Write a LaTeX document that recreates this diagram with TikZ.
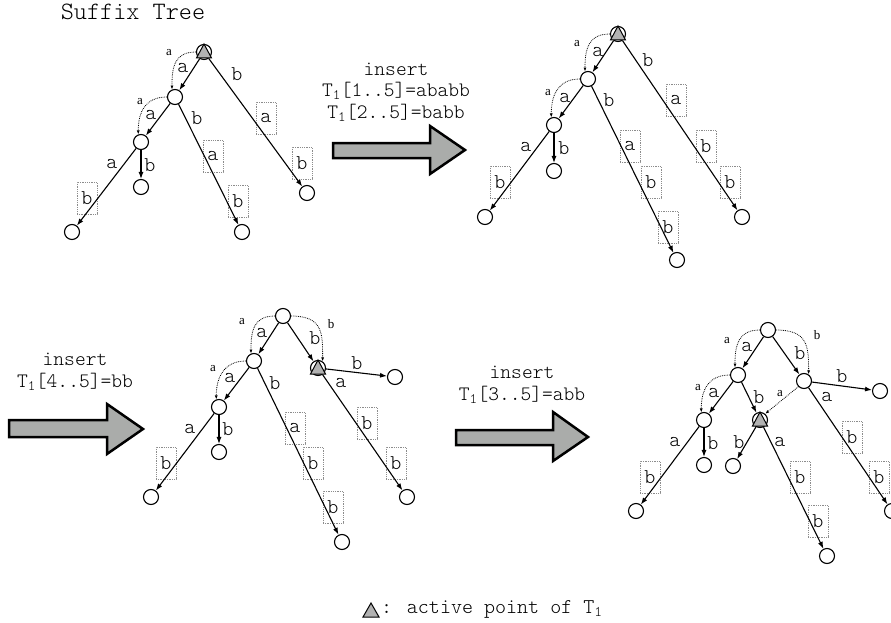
\documentclass[tikz,border=0pt]{standalone}
\usepackage{fontspec}
\newfontfamily\cour{Latin Modern Mono Light}
\newfontfamily\serifsmall{Liberation Serif}
\usetikzlibrary{arrows.meta,calc}
\definecolor{arrowgray}{RGB}{170,172,170}
\definecolor{trigray}{RGB}{178,178,178}
\definecolor{boxgray}{RGB}{140,140,140}
\newcommand\actpt[1]{\draw[tri] ($(#1)+(0,-8)$) -- ($(#1)+(-7.5,6)$) -- ($(#1)+(7.5,6)$) -- cycle;}
\begin{document}
\begin{tikzpicture}[x=1pt,y=-1pt,
 vtx/.style={circle,draw,line width=1.1pt,minimum size=15pt,inner sep=0pt,fill=white},
 edge/.style={line width=1.1pt,-{Latex[length=7pt,width=5pt]}},
 link/.style={densely dotted,line width=0.8pt,-{Latex[length=4pt,width=3pt]}},
 lab/.style={font=\cour\fontsize{21}{23}\selectfont,inner sep=0pt},
 slab/.style={font=\serifsmall\fontsize{13}{13}\selectfont,inner sep=0pt},
 seg/.style={draw=boxgray,densely dotted,line width=0.8pt,minimum width=20pt,minimum height=32pt,inner sep=0pt,font=\cour\fontsize{21}{23}\selectfont},
 ins/.style={font=\cour\fontsize{20.5}{21.5}\selectfont,align=center,inner sep=0pt},
 bigarrow/.style={fill=arrowgray,draw=black,line width=2.5pt,line join=miter},
 tri/.style={fill=trigray,draw=black,line width=1pt}]
\useasboundingbox (0,0) rectangle (891,623);

\node[font=\cour\fontsize{25}{27}\selectfont,inner sep=0pt] (title) at (133,12) {Suffix Tree};

% ---------- big arrows ----------
\draw[bigarrow] (333,143) -- (430,143) -- (430,126) -- (465,150) -- (430,174) -- (430,158) -- (333,158) -- cycle;
\draw[bigarrow] (9,420) -- (107,420) -- (107,404) -- (143,429) -- (107,454) -- (107,437) -- (9,437) -- cycle;
\draw[bigarrow] (456,430) -- (553,430) -- (553,412) -- (588,437) -- (553,461) -- (553,445) -- (456,445) -- cycle;

\node[ins] (ins1) at (396,92) {insert\\T\textsubscript{1}[1..5]=ababb\\T\textsubscript{1}[2..5]=babb};
\node[ins] (ins2) at (75,372) {insert\\T\textsubscript{1}[4..5]=bb};
\node[ins] (ins3) at (522,385) {insert\\T\textsubscript{1}[3..5]=abb};

% ---------- tree 1 ----------
\node[vtx] (R1) at (204,52) {};
\node[vtx] (A1) at (175,97) {};
\node[vtx] (B1) at (141,142) {};
\node[vtx] (Bb1) at (141,187) {};
\node[vtx] (Ba1) at (72,232) {};
\node[vtx] (Ab1) at (242,232) {};
\node[vtx] (Rb1) at (307,193) {};
\actpt{R1}
\node[seg] (s1a) at (266,118) {a};
\node[seg] (s1b) at (302,163) {b};
\node[seg] (s1c) at (213,156) {a};
\node[seg] (s1d) at (238,201) {b};
\node[seg] (s1e) at (87,198) {b};
\draw[edge] (R1) -- (A1);
\draw[edge] (R1) -- (Rb1);
\draw[edge] (A1) -- (B1);
\draw[edge] (A1) -- (Ab1);
\draw[edge] (B1) -- (Ba1);
\draw[edge] (B1) -- (Bb1);
\node[lab] (l1a) at (183,68) {a};
\node[lab] (l1b) at (237,74) {b};
\node[lab] (l1c) at (151,115) {a};
\node[lab] (l1d) at (197,118) {b};
\node[lab] (l1e) at (112,164) {a};
\node[lab] (l1f) at (150,165) {b};
\draw[link] (R1.west) .. controls +(-22,0) and +(0,-22) .. (A1.112);
\draw[link] (A1.west) .. controls +(-22,0) and +(0,-22) .. (B1.110);
\node[slab] (k1a) at (169,53) {a};
\node[slab] (k1b) at (140,102) {a};

% ---------- tree 2 ----------
\node[vtx] (R2) at (618,34) {};
\node[vtx] (A2) at (588,79) {};
\node[vtx] (B2) at (554,125) {};
\node[vtx] (Bb2) at (554,171) {};
\node[vtx] (Ba2) at (485,217) {};
\node[vtx] (Ab2) at (677,260) {};
\node[vtx] (Rb2) at (742,217) {};
\actpt{R2}
\node[seg] (s2a) at (676,100) {a};
\node[seg] (s2b) at (706,146) {b};
\node[seg] (s2c) at (730,182) {b};
\node[seg] (s2d) at (630,146) {a};
\node[seg] (s2e) at (651,182) {b};
\node[seg] (s2f) at (668,227) {b};
\node[seg] (s2g) at (500,182) {b};
\draw[edge] (R2) -- (A2);
\draw[edge] (R2) -- (Rb2);
\draw[edge] (A2) -- (B2);
\draw[edge] (A2) -- (Ab2);
\draw[edge] (B2) -- (Ba2);
\draw[edge] (B2) -- (Bb2);
\node[lab] (l2a) at (598,52) {a};
\node[lab] (l2b) at (648,60) {b};
\node[lab] (l2c) at (565,98) {a};
\node[lab] (l2d) at (609,100) {b};
\node[lab] (l2e) at (526,147) {a};
\node[lab] (l2f) at (564,148) {b};
\draw[link] (R2.west) .. controls +(-22,0) and +(0,-22) .. (A2.112);
\draw[link] (A2.west) .. controls +(-22,0) and +(0,-22) .. (B2.110);
\node[slab] (k2a) at (577,44) {a};
\node[slab] (k2b) at (548,93) {a};

% ---------- tree 3 ----------
\node[vtx] (R3) at (283,316) {};
\node[vtx] (A3) at (254,361) {};
\node[vtx] (B3) at (219,407) {};
\node[vtx] (Bb3) at (219,452) {};
\node[vtx] (Ba3) at (151,497) {};
\node[vtx] (Ab3) at (342,542) {};
\node[vtx] (C3) at (318,368) {};
\node[vtx] (Cb3) at (395,377) {};
\node[vtx] (Ca3) at (407,497) {};
\actpt{C3}
\node[seg] (s3a) at (367,423) {b};
\node[seg] (s3b) at (396,463) {b};
\node[seg] (s3c) at (295,428) {a};
\node[seg] (s3d) at (313,463) {b};
\node[seg] (s3e) at (333,507) {b};
\node[seg] (s3f) at (166,463) {b};
\draw[edge] (R3) -- (A3);
\draw[edge] (R3) -- (C3);
\draw[edge] (C3) -- (Cb3);
\draw[edge] (C3) -- (Ca3);
\draw[edge] (A3) -- (B3);
\draw[edge] (A3) -- (Ab3);
\draw[edge] (B3) -- (Ba3);
\draw[edge] (B3) -- (Bb3);
\node[lab] (l3a) at (262,333) {a};
\node[lab] (l3b) at (315,338) {b};
\node[lab] (l3c) at (357,363) {b};
\node[lab] (l3d) at (341,383) {a};
\node[lab] (l3e) at (230,378) {a};
\node[lab] (l3f) at (275,383) {b};
\node[lab] (l3g) at (190,429) {a};
\node[lab] (l3h) at (228,429) {b};
\draw[link] (R3.west) .. controls +(-22,0) and +(0,-22) .. (A3.112);
\draw[link] (R3.east) .. controls +(32,0) and +(0,-28) .. (C3.55);
\draw[link] (A3.west) .. controls +(-22,0) and +(0,-22) .. (B3.110);
\node[slab] (k3a) at (242,322) {a};
\node[slab] (k3b) at (331,324) {b};
\node[slab] (k3c) at (213,369) {a};

% ---------- tree 4 ----------
\node[vtx] (R4) at (768,330) {};
\node[vtx] (A4) at (738,375) {};
\node[vtx] (B4) at (704,420) {};
\node[vtx] (Bb4) at (704,465) {};
\node[vtx] (Ba4) at (636,511) {};
\node[vtx] (C4) at (804,381) {};
\node[vtx] (Cb4) at (880,391) {};
\node[vtx] (Ca4) at (892,511) {};
\node[vtx] (D4) at (760,420) {};
\node[vtx] (Db4) at (733,466) {};
\node[vtx] (Da4) at (827,556) {};
\actpt{D4}
\node[seg] (s4a) at (852,437) {b};
\node[seg] (s4b) at (879,477) {b};
\node[seg] (s4c) at (800,477) {b};
\node[seg] (s4d) at (818,521) {b};
\node[seg] (s4e) at (650,477) {b};
\draw[edge] (R4) -- (A4);
\draw[edge] (R4) -- (C4);
\draw[edge] (C4) -- (Cb4);
\draw[edge] (C4) -- (Ca4);
\draw[edge] (A4) -- (B4);
\draw[edge] (A4) -- (D4);
\draw[edge] (D4) -- (Db4);
\draw[edge] (D4) -- (Da4);
\draw[edge] (B4) -- (Ba4);
\draw[edge] (B4) -- (Bb4);
\node[lab] (l4a) at (747,347) {a};
\node[lab] (l4b) at (800,353) {b};
\node[lab] (l4c) at (842,376) {b};
\node[lab] (l4d) at (827,397) {a};
\node[lab] (l4e) at (714,393) {a};
\node[lab] (l4f) at (759,397) {b};
\node[lab] (l4g) at (739,442) {b};
\node[lab] (l4h) at (780,442) {a};
\node[lab] (l4i) at (675,442) {a};
\node[lab] (l4j) at (713,443) {b};
\draw[link] (R4.west) .. controls +(-22,0) and +(0,-22) .. (A4.112);
\draw[link] (R4.east) .. controls +(32,0) and +(0,-28) .. (C4.55);
\draw[link] (A4.west) .. controls +(-22,0) and +(0,-22) .. (B4.110);
\draw[link] (C4.225) -- (D4.50);
\node[slab] (k4a) at (727,341) {a};
\node[slab] (k4b) at (817,335) {b};
\node[slab] (k4c) at (698,388) {a};
\node[slab] (k4d) at (780,394) {a};

% ---------- legend ----------
\draw[tri] (363,617) -- (379,617) -- (371,603) -- cycle;
\node[lab,anchor=west] (legend) at (381,609) {: active point of T\textsubscript{1}};
\end{tikzpicture}
\end{document}
